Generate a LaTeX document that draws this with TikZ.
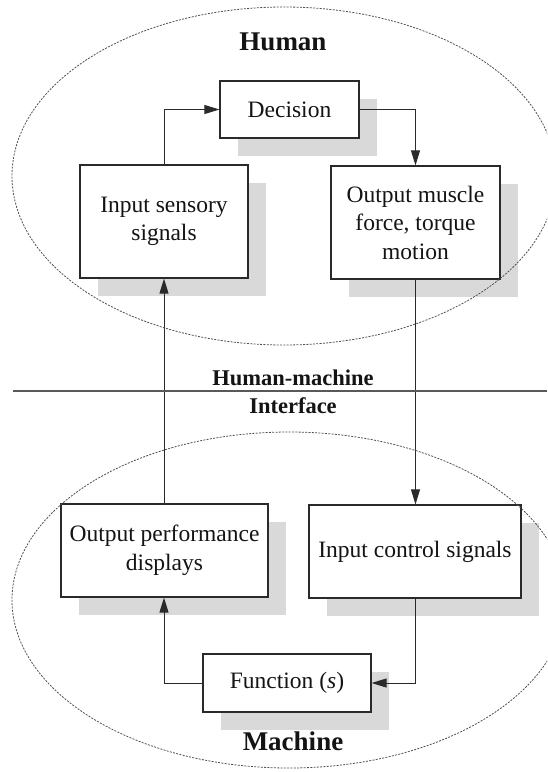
\documentclass[tikz,border=0pt]{standalone}
\usepackage{fontspec}
\setmainfont{Liberation Serif}
\usetikzlibrary{arrows.meta,shadows}
\definecolor{shadowgray}{HTML}{D9D9D9}
\definecolor{linegray}{HTML}{2A2A2A}
\definecolor{dashgray}{HTML}{505050}
\begin{document}
\begin{tikzpicture}[x=1pt,y=-1pt,
  box/.style={draw=linegray, line width=1.2pt, fill=white, inner sep=0pt, align=center,
    font=\fontsize{23.5}{28.5}\selectfont, text=black!92,
    drop shadow={shadow xshift=18pt, shadow yshift=-18pt, fill=shadowgray, opacity=1}},
  conn/.style={draw=linegray, line width=1.0pt, -{Triangle[length=15pt,width=9pt]}},
  zone/.style={draw=dashgray, line width=0.8pt, dash pattern=on 2pt off 1.3pt},
  divider/.style={draw=black!65, line width=1.1pt},
  title/.style={font=\bfseries\fontsize{27}{30}\selectfont, anchor=base, inner sep=0pt, text=black!92},
  subtitle/.style={font=\bfseries\fontsize{22.5}{26}\selectfont, anchor=base, inner sep=0pt, text=black!92}]
\useasboundingbox (0,0) rectangle (547,772);
\clip (0,0) rectangle (547,772);

% boxes
\node[box, minimum width=139pt, minimum height=57pt] (dec) at (289.5,109.5) {Decision};
\node[box, minimum width=168pt, minimum height=113pt] (ins) at (164,221.5) {Input sensory\\signals};
\node[box, minimum width=169pt, minimum height=113pt] (outm) at (415.5,222.5) {Output muscle\\force, torque\\motion};
\node[box, minimum width=207pt, minimum height=93pt] (outp) at (164.5,550.5) {Output performance\\displays};
\node[box, minimum width=212pt, minimum height=93pt] (inc) at (415,551.5) {Input control signals};
\node[box, minimum width=168pt, minimum height=58pt] (fun) at (287,683) {Function (\textit{s})};

% connectors
\draw[conn] (ins.north) |- (dec.west);
\draw[conn] (dec.east) -| (outm.south |- outm.north);
\draw[conn] (outm.south) -- (outm.south |- inc.north);
\draw[conn] (inc.south) |- (fun.east);
\draw[conn] (fun.west) -| (ins.south |- outp.south);
\draw[conn] (outp.north -| ins.south) -- (ins.south);

% interface line
\coordinate (ifl) at (13,391);
\coordinate (ifr) at (547,391);
\draw[divider] (ifl) -- (ifr);

% labels
\node[title] (human) at (283,50.5) {Human};
\node[subtitle] (hm1) at (293,385) {Human-machine};
\node[subtitle] (hm2) at (293,413.5) {Interface};
\node[title] (machine) at (293,750) {Machine};

% zones
\draw[zone] (284,176) ellipse [x radius=272pt, y radius=169pt];
\draw[zone] (289,600) ellipse [x radius=277pt, y radius=168pt];
\end{tikzpicture}
\end{document}
